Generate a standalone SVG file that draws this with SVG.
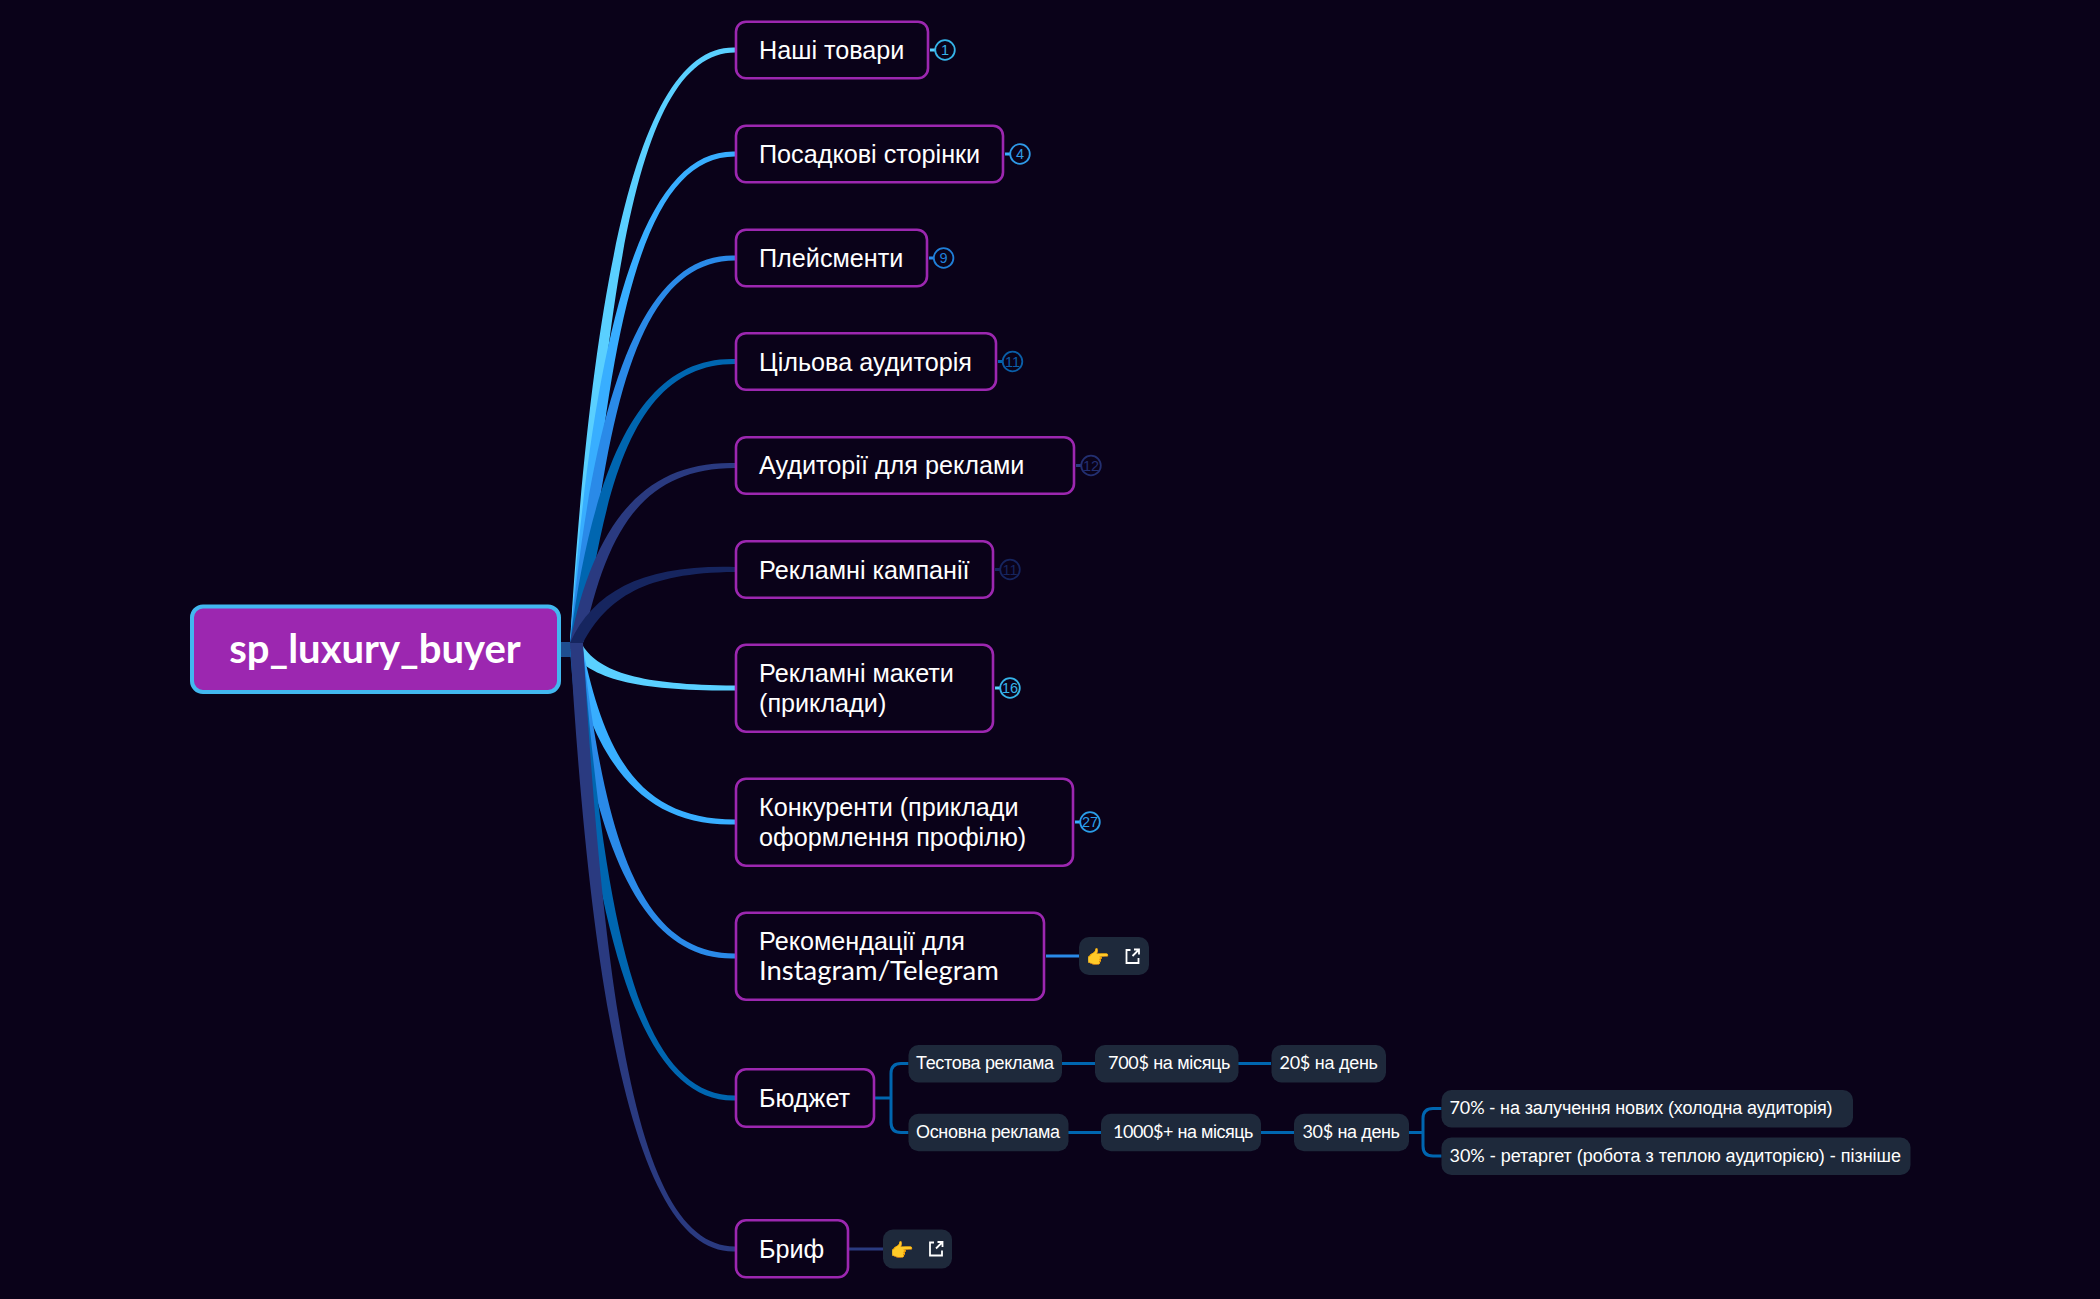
<svg xmlns="http://www.w3.org/2000/svg" width="2100" height="1299" viewBox="0 0 2100 1299">
<style>
.n{fill:#0a0219;stroke:#9c27b0;stroke-width:2.6}
.t{font-family:"Liberation Sans",Arial,sans-serif;font-size:25.200px;fill:#fff}
.l{font-family:"Liberation Sans",Arial,sans-serif;font-size:18px;fill:#fff}
.d{font-family:Lato,"Liberation Sans",sans-serif}
.leaf{fill:#1e293b}
.b{fill:none;stroke-width:1.8}
.bt{font-family:"Liberation Sans",Arial,sans-serif;font-size:14.5px;text-anchor:middle}
.s{fill:none;stroke-width:3}
.ic{fill:none;stroke:#fff;stroke-width:1.8}
.em{font-family:"Noto Color Emoji","DejaVu Sans",sans-serif;font-size:19px;fill:#fbb82b;text-anchor:middle}
</style>
<rect width="2100" height="1299" fill="#0a0219"/>
<g id="connectors">
<rect x="561" y="642" width="22" height="15" fill="#1f4e8f"/>
<path fill="#5ad0ff" d="M570,643C594,246 645,45 735,47.500L735,52.500C645,53 607,246 583,643Z"/>
<path fill="#38aeff" d="M570,643C594,315 645,149 735,151.500L735,156.500C645,157 607,315 583,643Z"/>
<path fill="#2a8ae8" d="M570,643C594,385 645,253 735,255.500L735,260.500C645,261 607,385 583,643Z"/>
<path fill="#0066b0" d="M570,643C594,454 645,356.500 735,359L735,364C645,364.500 607,454 583,643Z"/>
<path fill="#2a3a80" d="M570,643C594,522 645,460.500 735,463L735,468C645,468.500 607,526 583,643Z"/>
<path fill="#16255f" d="M570,643C594,590 645,564.500 735,567L735,572C645,572.500 607,598 583,643Z"/>
<path fill="#5ad0ff" d="M570,650C590,680 640,691 735,690.500L735,685.500C640,685 600,672 583,646Z"/>
<path fill="#38aeff" d="M570,650C594,765 645,827 735,824.500L735,819.500C645,819 607,765 583,650Z"/>
<path fill="#2a8ae8" d="M570,650C594,855 645,961 735,958.500L735,953.500C645,953 607,855 583,650Z"/>
<path fill="#0066b0" d="M570,650C594,950 645,1103 735,1100.500L735,1095.500C645,1095 607,950 583,650Z"/>
<path fill="#2a3a80" d="M570,643C594,1051 645,1254 735,1251.500L735,1246.500C645,1246 607,1051 583,643Z"/>
<path class="s" stroke="#5ad0ff" d="M930,50H935"/>
<path class="s" stroke="#38aeff" d="M1005,154H1010"/>
<path class="s" stroke="#2a8ae8" d="M929,258H934"/>
<path class="s" stroke="#0066b0" d="M998,361.500H1003"/>
<path class="s" stroke="#2a3a80" d="M1076,465.500H1081"/>
<path class="s" stroke="#16255f" d="M995,569.500H1000"/>
<path class="s" stroke="#5ad0ff" d="M995,688H1000"/>
<path class="s" stroke="#38aeff" d="M1075,822H1080"/>
<path class="s" stroke="#2a8ae8" d="M1046,956H1079"/>
<path class="s" stroke="#2a3a80" d="M849,1249H883"/>
<path class="s" stroke="#0066b0" d="M875,1098H891M908.500,1063.500H901Q891,1063.500 891,1073.500V1122.500Q891,1132.500 901,1132.500H908.500"/>
<path class="s" stroke="#0066b0" d="M1062,1063.500H1095M1238,1063.500H1271M1068,1132.500H1101M1261,1132.500H1294"/>
<path class="s" stroke="#0066b0" d="M1409,1132.500H1423M1441.500,1108.500H1433Q1423,1108.500 1423,1118.500V1146Q1423,1156 1433,1156H1441.500"/>
</g>
<g id="root"><rect x="192" y="606.500" width="367" height="85.500" rx="11" fill="#9c27b0" stroke="#42b8f0" stroke-width="4"/>
<text x="375" y="663" text-anchor="middle" font-family="Lato,'Liberation Sans',sans-serif" font-size="40" font-weight="700" fill="#fff">sp_luxury_buyer</text></g>
<g id="n1"><rect class="n" x="736" y="21.700" width="192" height="56.600" rx="10"/><text class="t" x="759" y="59">Наші товари</text><circle class="b" cx="945" cy="50" r="9.800" stroke="#35b3e8"/><text class="bt" x="945" y="55" fill="#35b3e8">1</text></g>
<g id="n2"><rect class="n" x="736" y="125.700" width="267" height="56.600" rx="10"/><text class="t" x="759" y="163">Посадкові сторінки</text><circle class="b" cx="1020" cy="154" r="9.800" stroke="#2f9ae8"/><text class="bt" x="1020" y="159" fill="#2f9ae8">4</text></g>
<g id="n3"><rect class="n" x="736" y="229.700" width="191" height="56.600" rx="10"/><text class="t" x="759" y="267">Плейсменти</text><circle class="b" cx="943.600" cy="258" r="9.800" stroke="#1f7fd8"/><text class="bt" x="943.600" y="263" fill="#1f7fd8">9</text></g>
<g id="n4"><rect class="n" x="736" y="333.200" width="260" height="56.600" rx="10"/><text class="t" x="759" y="370.500">Цільова аудиторія</text><circle class="b" cx="1012.500" cy="361.500" r="9.800" stroke="#0a5ea8"/><text class="bt" x="1012.500" y="366.500" fill="#0a5ea8">11</text></g>
<g id="n5"><rect class="n" x="736" y="437.200" width="338" height="56.600" rx="10"/><text class="t" x="759" y="474">Аудиторії для реклами</text><circle class="b" cx="1091" cy="465.500" r="9.800" stroke="#232f70"/><text class="bt" x="1091" y="470.500" fill="#232f70">12</text></g>
<g id="n6"><rect class="n" x="736" y="541.200" width="257" height="56.600" rx="10"/><text class="t" x="759" y="578.500">Рекламні кампанії</text><circle class="b" cx="1010" cy="569.500" r="9.800" stroke="#16255f"/><text class="bt" x="1010" y="574.500" fill="#16255f">11</text></g>
<g id="n7"><rect class="n" x="736" y="644.700" width="257" height="87" rx="10"/><text class="t" x="759" y="681.700">Рекламні макети</text><text class="t" x="759" y="711.700">(приклади)</text><circle class="b" cx="1010" cy="688" r="9.800" stroke="#35b3e8"/><text class="bt" x="1010" y="693" fill="#35b3e8">16</text></g>
<g id="n8"><rect class="n" x="736" y="778.700" width="337" height="87" rx="10"/><text class="t" x="759" y="815.700">Конкуренти (приклади</text><text class="t" x="759" y="845.700">оформлення профілю)</text><circle class="b" cx="1090" cy="822" r="9.800" stroke="#2a9de8"/><text class="bt" x="1090" y="827" fill="#2a9de8">27</text></g>
<g id="n9"><rect class="n" x="736" y="912.700" width="308" height="87" rx="10"/><text class="t" x="759" y="950">Рекомендації для</text><text class="t d" x="759" y="979.500" style="font-size:27.500px">Instagram/Telegram</text>
<rect class="leaf" x="1079" y="937" width="70" height="38" rx="10"/><text class="em" x="1098" y="964">👉</text><path class="ic" d="M1130.500,950H1126.500V963H1138.500V958M1132.500,956L1138.500,950M1134,949.500H1139V954.500"/></g>
<g id="n10"><rect class="n" x="736" y="1069.300" width="138" height="57.500" rx="10"/><text class="t" x="759" y="1107">Бюджет</text></g>
<g id="n11"><rect class="n" x="736" y="1220.300" width="112" height="57" rx="10"/><text class="t" x="759" y="1258">Бриф</text>
<rect class="leaf" x="883" y="1229.500" width="69" height="39" rx="10"/><text class="em" x="902" y="1257">👉</text><path class="ic" d="M934,1242.500H930V1255.500H942V1250.500M936,1248.500L942,1242.500M937.500,1242H942.500V1247"/></g>
<g id="l1"><rect class="leaf" x="908.500" y="1045" width="153.500" height="37.500" rx="10"/><text class="l" x="916" y="1069" textLength="138">Тестова реклама</text></g>
<g id="l2"><rect class="leaf" x="1095" y="1045" width="143.500" height="37.500" rx="10"/><text class="l" x="1108" y="1069" textLength="122.500"><tspan class="d">700$</tspan> на місяць</text></g>
<g id="l3"><rect class="leaf" x="1271.500" y="1045" width="114.500" height="37.500" rx="10"/><text class="l" x="1279.500" y="1069" textLength="98.500"><tspan class="d">20$</tspan> на день</text></g>
<g id="l4"><rect class="leaf" x="908.500" y="1113.800" width="160" height="37.500" rx="10"/><text class="l" x="916" y="1138" textLength="144"><tspan>Основна реклама</tspan></text></g>
<g id="l5"><rect class="leaf" x="1101" y="1113.800" width="160" height="37.500" rx="10"/><text class="l" x="1113" y="1138" textLength="140.500"><tspan class="d">1000$+</tspan> на місяць</text></g>
<g id="l6"><rect class="leaf" x="1294" y="1113.800" width="115" height="37.500" rx="10"/><text class="l" x="1302.500" y="1138" textLength="97.500"><tspan class="d">30$</tspan> на день</text></g>
<g id="l7"><rect class="leaf" x="1441.500" y="1090" width="411.500" height="37.500" rx="10"/><text class="l" x="1449.500" y="1114" textLength="383"><tspan class="d">70%</tspan> - на залучення нових (холодна аудиторія)</text></g>
<g id="l8"><rect class="leaf" x="1441.500" y="1137.500" width="469" height="37.500" rx="10"/><text class="l" x="1449.500" y="1161.500" textLength="451.500"><tspan class="d">30%</tspan> - ретаргет (робота з теплою аудиторією) - пізніше</text></g>
</svg>
